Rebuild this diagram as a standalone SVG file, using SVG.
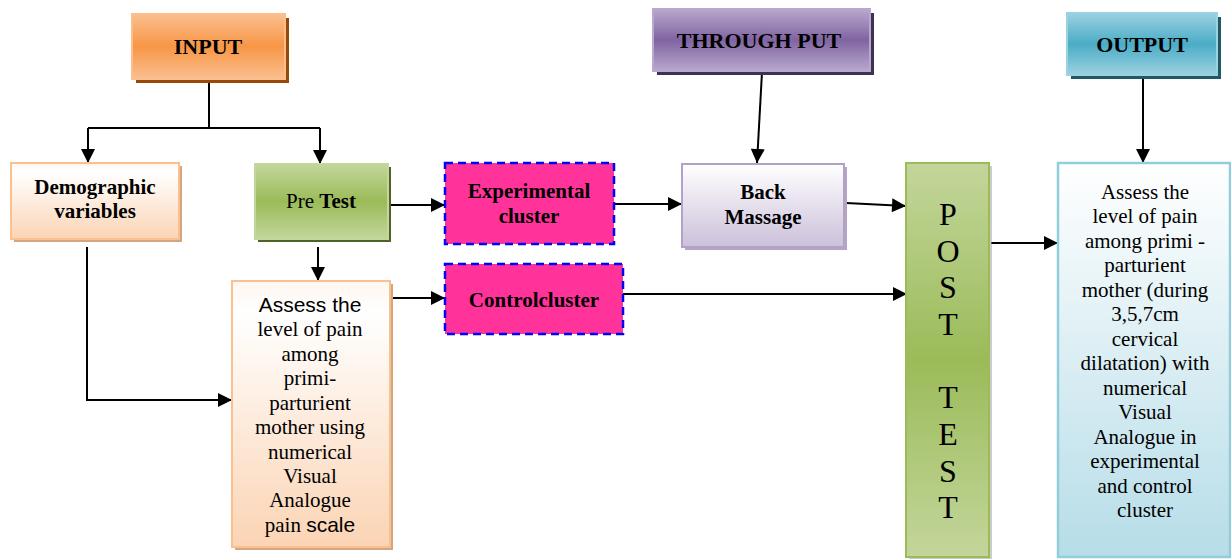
<svg xmlns="http://www.w3.org/2000/svg" width="1231" height="559" viewBox="0 0 1231 559">
<defs>
<linearGradient id="gOrange" x1="0" y1="0" x2="0" y2="1"><stop offset="0" stop-color="#fbbf8f"/><stop offset="0.5" stop-color="#f79646"/><stop offset="1" stop-color="#fbbf8f"/></linearGradient>
<linearGradient id="gPurple" x1="0" y1="0" x2="0" y2="1"><stop offset="0" stop-color="#b9a8cd"/><stop offset="0.5" stop-color="#8064a2"/><stop offset="1" stop-color="#b9a8cd"/></linearGradient>
<linearGradient id="gTeal" x1="0" y1="0" x2="0" y2="1"><stop offset="0" stop-color="#9bd2e0"/><stop offset="0.5" stop-color="#4bacc6"/><stop offset="1" stop-color="#9bd2e0"/></linearGradient>
<linearGradient id="gGreen" x1="0" y1="0" x2="0" y2="1"><stop offset="0" stop-color="#c3d69b"/><stop offset="0.5" stop-color="#9bbb59"/><stop offset="1" stop-color="#c3d69b"/></linearGradient>
<linearGradient id="gPeach" x1="0" y1="0" x2="0" y2="1"><stop offset="0" stop-color="#fff6f0"/><stop offset="0.12" stop-color="#ffffff"/><stop offset="1" stop-color="#fbd4b4"/></linearGradient>
<linearGradient id="gLilac" x1="0" y1="0" x2="0" y2="1"><stop offset="0" stop-color="#ffffff"/><stop offset="1" stop-color="#ccc0da"/></linearGradient>
<linearGradient id="gBlue" x1="0" y1="0" x2="0" y2="1"><stop offset="0" stop-color="#ffffff"/><stop offset="1" stop-color="#b6dde8"/></linearGradient>
<marker id="ah" viewBox="0 0 10 10" refX="10" refY="5" markerWidth="15" markerHeight="14" markerUnits="userSpaceOnUse" orient="auto"><path d="M0,0 L10,5 L0,10 z" fill="#000"/></marker>
</defs>
<style>
.t{font-family:"Liberation Serif","Times New Roman",serif;fill:#000;text-anchor:middle}
.b{font-weight:bold}
.h{font-size:22px;font-weight:bold}
.n{font-size:21px}
.s{font-family:"Liberation Sans",Arial,sans-serif}
.c{fill:none;stroke:#000;stroke-width:2}
.a{marker-end:url(#ah)}
.clu{fill:#ff3399;stroke:#0000ff;stroke-width:2.5;stroke-dasharray:8 5}
</style>
<rect width="1231" height="559" fill="#fff"/>

<g id="connectors">
<path class="c" d="M209,80 V128"/>
<path class="c" d="M88,128 H320"/>
<path class="c a" d="M88,128 V163"/>
<path class="c a" d="M320,128 V164"/>
<path class="c a" d="M762,72 L757,163"/>
<path class="c a" d="M1143,76 V163"/>
<path class="c a" d="M388,205 H445"/>
<path class="c a" d="M614,204 H682"/>
<path class="c a" d="M846,203 L906,206"/>
<path class="c a" d="M318,247 V281"/>
<path class="c a" d="M87,247 V400 H232"/>
<path class="c a" d="M392,298 H445"/>
<path class="c a" d="M623,294 H907"/>
<path class="c a" d="M991,243 H1058"/>
</g>

<g id="input">
<rect x="136" y="18" width="153" height="65" fill="#984807"/>
<rect x="132" y="14" width="153" height="65" fill="url(#gOrange)" stroke="#fbbf8f" stroke-width="2"/>
<text class="t h" x="208" y="54">INPUT</text>
</g>

<g id="throughput">
<rect x="657" y="13" width="217" height="62" fill="#3f3151"/>
<rect x="653" y="9" width="217" height="62" fill="url(#gPurple)" stroke="#b9a8cd" stroke-width="2"/>
<text class="t h" x="759" y="48">THROUGH PUT</text>
</g>

<g id="output">
<rect x="1071" y="17" width="150" height="62" fill="#215968"/>
<rect x="1067" y="13" width="150" height="62" fill="url(#gTeal)" stroke="#9bd2e0" stroke-width="2"/>
<text class="t h" x="1142" y="52">OUTPUT</text>
</g>

<g id="demographic">
<rect x="14" y="166" width="168" height="76" fill="#d5a57d"/>
<rect x="11" y="163" width="168" height="76" fill="url(#gPeach)" stroke="#fac090" stroke-width="2"/>
<text class="t n b" x="95" y="194">Demographic</text>
<text class="t n b" x="95" y="218">variables</text>
</g>

<g id="pretest">
<rect x="258" y="167" width="133" height="75" fill="#4f6228"/>
<rect x="255" y="164" width="133" height="75" fill="url(#gGreen)" stroke="#c3d69b" stroke-width="2"/>
<text class="t n" x="321" y="208">Pre <tspan class="b">Test</tspan></text>
</g>

<g id="experimental">
<rect class="clu" x="445" y="163" width="169" height="81"/>
<text class="t n b" x="529" y="198">Experimental</text>
<text class="t n b" x="529" y="223">cluster</text>
</g>

<g id="backmassage">
<rect x="685" y="167" width="162" height="83" fill="#b3a5c3"/>
<rect x="682" y="164" width="162" height="83" fill="url(#gLilac)" stroke="#b3a2c7" stroke-width="2"/>
<text class="t n b" x="763" y="199">Back</text>
<text class="t n b" x="763" y="224">Massage</text>
</g>

<g id="control">
<rect class="clu" x="445" y="264" width="178" height="70"/>
<text class="t n b" x="534" y="307">Controlcluster</text>
</g>

<g id="assess-pre">
<rect x="235" y="284" width="158" height="266" fill="#d5a57d"/>
<rect x="232" y="281" width="158" height="266" fill="url(#gPeach)" stroke="#fac090" stroke-width="2"/>
<text class="t n s" x="310" y="312">Assess the</text>
<text class="t n" x="310" y="336">level of pain</text>
<text class="t n" x="310" y="361">among</text>
<text class="t n" x="310" y="385">primi-</text>
<text class="t n" x="310" y="410">parturient</text>
<text class="t n" x="310" y="434">mother using</text>
<text class="t n" x="310" y="459">numerical</text>
<text class="t n" x="310" y="483">Visual</text>
<text class="t n" x="310" y="507">Analogue</text>
<text class="t n" x="310" y="532">pain <tspan class="s">scale</tspan></text>
</g>

<g id="posttest">
<rect x="909" y="166" width="83" height="394" fill="#9a9a9a" opacity="0.5"/>
<rect x="906" y="163" width="83" height="394" fill="url(#gGreen)" stroke="#9bbb59" stroke-width="2"/>
<g class="t" style="font-size:32px">
<text x="948" y="225">P</text>
<text x="948" y="262">O</text>
<text x="948" y="298">S</text>
<text x="948" y="335">T</text>
<text x="948" y="408">T</text>
<text x="948" y="445">E</text>
<text x="948" y="482">S</text>
<text x="948" y="518">T</text>
</g>
</g>

<g id="assess-post">
<rect x="1058" y="163" width="172" height="394" fill="url(#gBlue)" stroke="#92cddc" stroke-width="2.5"/>
<text class="t n" x="1145" y="199">Assess the</text>
<text class="t n" x="1145" y="223">level of pain</text>
<text class="t n" x="1145" y="248">among primi -</text>
<text class="t n" x="1145" y="272">parturient</text>
<text class="t n" x="1145" y="297">mother (during</text>
<text class="t n" x="1145" y="321">3,5,7cm</text>
<text class="t n" x="1145" y="346">cervical</text>
<text class="t n" x="1145" y="370">dilatation) with</text>
<text class="t n" x="1145" y="395">numerical</text>
<text class="t n" x="1145" y="419">Visual</text>
<text class="t n" x="1145" y="444">Analogue in</text>
<text class="t n" x="1145" y="468">experimental</text>
<text class="t n" x="1145" y="493">and control</text>
<text class="t n" x="1145" y="517">cluster</text>
</g>
</svg>
